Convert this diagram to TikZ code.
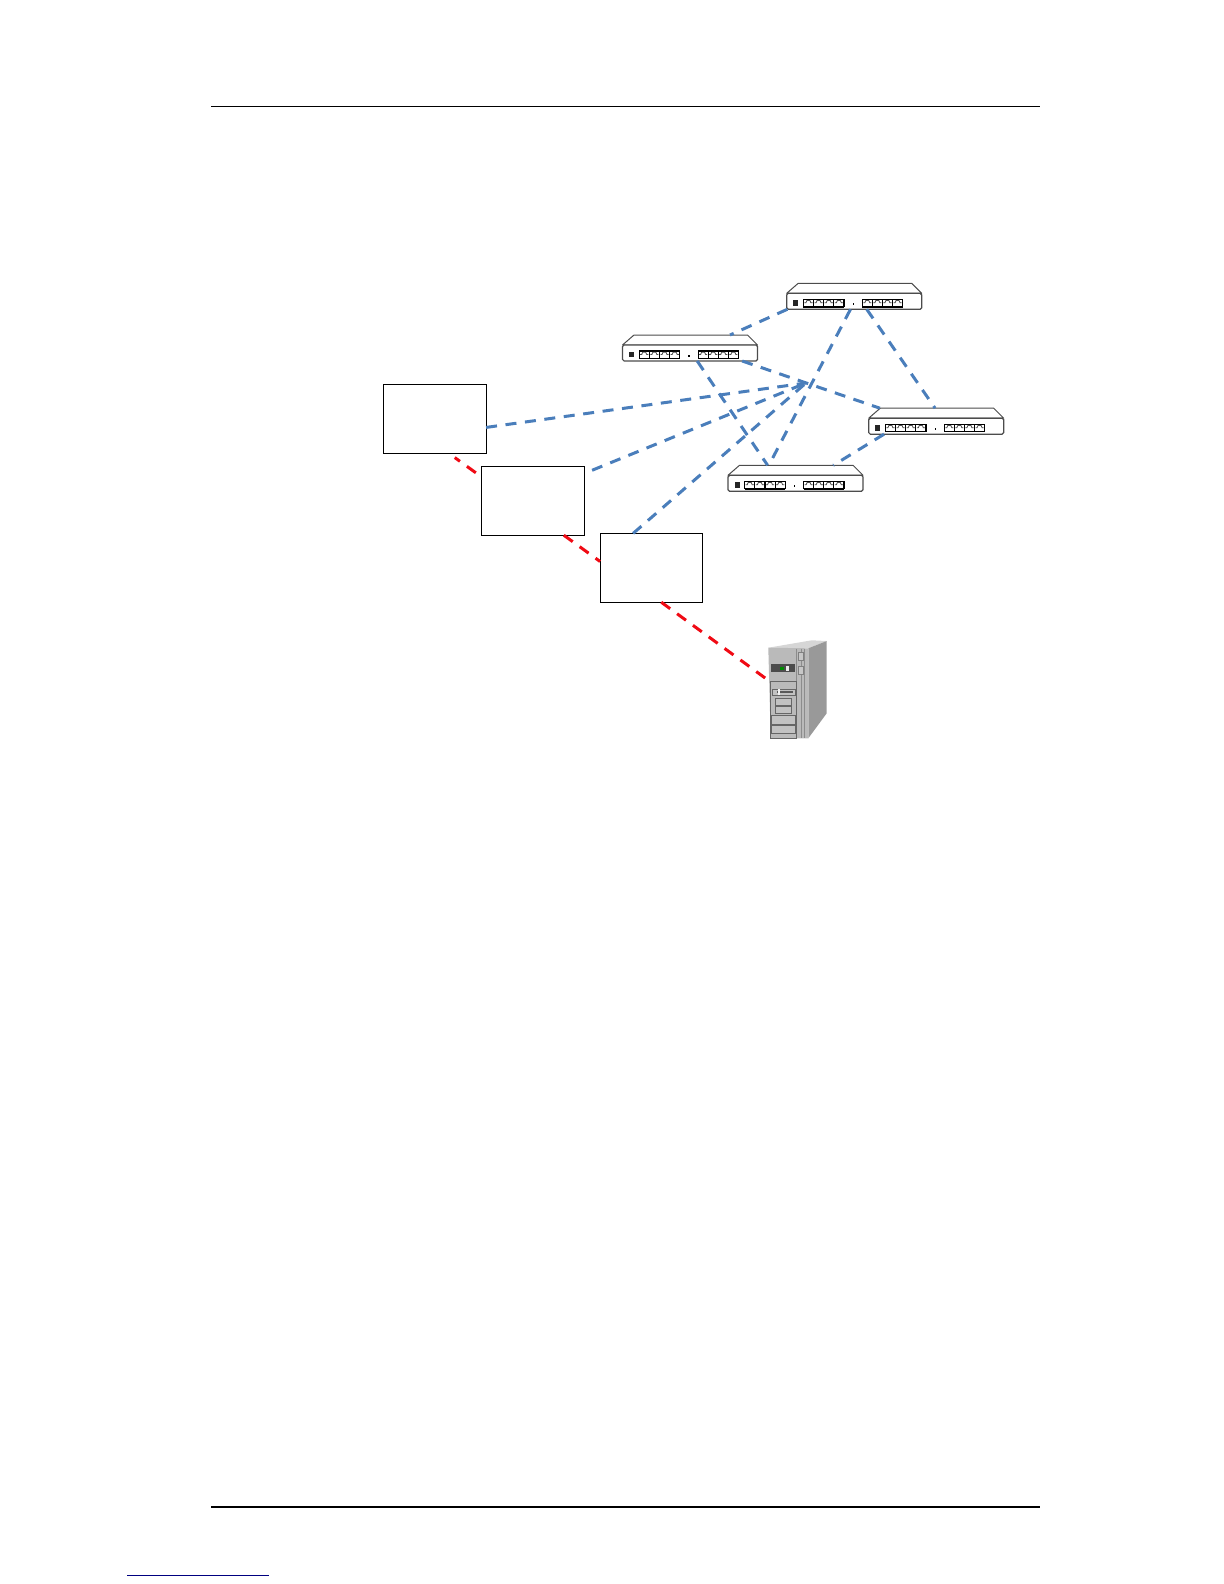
\documentclass[tikz,border=0pt]{standalone}
\usepackage{xcolor}
\definecolor{linkblue}{HTML}{4A7EBB}
\definecolor{linkred}{HTML}{F00A14}
\definecolor{linkunder}{HTML}{000080}
\begin{document}
\begin{tikzpicture}[
 x=.5pt,y=-.5pt,
 hopbox/.style={rectangle,draw=black,line width=.55pt,fill=white,outer sep=0pt,
   minimum width=51.3pt,minimum height=34.4pt,inner sep=0pt},
 switchnode/.style={rectangle,outer sep=0pt,inner sep=0pt,
   minimum width=67.5pt,minimum height=13pt},
 servernode/.style={rectangle,outer sep=0pt,inner sep=0pt,
   minimum width=29.35pt,minimum height=48.65pt},
 bluelink/.style={draw=linkblue,line width=1.5pt,dash pattern=on 5.5pt off 4.3pt},
 redlink/.style={draw=linkred,line width=1.5pt,dash pattern=on 5.5pt off 4.3pt},
 pagerule/.style={draw=black},
 bay/.style={draw=black!60,line width=.35pt,fill=black!24}]
 \useasboundingbox (0,0) rectangle (1224,1584);
 \coordinate (ruletopl) at (211,106.8);
 \coordinate (ruletopr) at (1040,106.8);
 \coordinate (rulebotl) at (211,1506.7);
 \coordinate (rulebotr) at (1040,1506.7);
 \coordinate (underl) at (127,1575);
 \coordinate (underr) at (269,1575);
 \coordinate (hub) at (806,383);
 \draw[pagerule,line width=.5pt] (ruletopl) -- (ruletopr);
 \draw[pagerule,line width=1pt] (rulebotl) -- (rulebotr);
 \draw[draw=linkunder,line width=.5pt] (underl) -- (underr);
 \node[hopbox] (hopa) at (434.8,419.3) {};
 \node[hopbox] (hopb) at (532.8,500.8) {};
 \node[hopbox] (hopc) at (651.4,567.8) {};
 \foreach \swname/\swx/\swy in {swtop/854.2/296.3,swleft/690/348,swright/936.2/421.2,swbot/795.5/478.3}{
   \node[switchnode] (\swname) at (\swx,\swy) {};
   \begin{scope}[shift={(\swname.north west)}]
     \draw[black!70,line width=.5pt,fill=white,line join=round] (0,10) -- (11.5,0) -- (125,0) -- (135,10) -- cycle;
     \draw[black!70,line width=.6pt,fill=white,rounded corners=.8pt] (0,10) rectangle (135,26);
     \fill[black!85] (6.7,16.7) rectangle (11.7,22.4);
     \fill[black] (65.8,20) rectangle (67.3,21.5);
     \foreach \portx in {16.7,26.85,37,47.15,75.6,85.65,95.7,105.85}{
       \draw[black,line width=.6pt,fill=white] (\portx,23.4) -- (\portx,16) -- (\portx+10.1,16) -- (\portx+10.1,23.4) -- cycle;
       \draw[black!70,line width=.4pt] (\portx+1,19.5) -- (\portx+2.5,19.5) -- (\portx+3.5,17.2) -- (\portx+6.5,17.2) -- (\portx+7.5,19.5) -- (\portx+9.1,19.5);
       \draw[black,line width=.8pt] (\portx,23.4) -- (\portx+10.1,23.4);
     }
   \end{scope}
 }
 \node[servernode] (server) at (797.35,689.65) {};
 \begin{scope}[shift={(server.north west)}]
   \fill[black!16] (.3,6.7) -- (43.7,-.7) -- (58.7,0) -- (40.3,7.3) -- cycle;
   \fill[black!40] (40.3,7.3) -- (58.7,0) -- (58.7,72.3) -- (40.3,97.3) -- cycle;
   \fill[black!27] (.3,6.7) -- (40.3,7.3) -- (40.3,97.3) -- (2.7,97.3) -- cycle;
   \draw[black!45,line width=.3pt] (28.7,7.5) -- (28.7,97.3) (33,7.5) -- (33,97.3) (36.5,7.5) -- (36.5,97.3);
   \draw[black!50,line width=.3pt,fill=black!22] (30,11) rectangle (35,19) (30,25) rectangle (35,33);
   \fill[black!70] (2.7,23.3) rectangle (27,31.3);
   \fill[green!55!black] (12,25.5) rectangle (16,29);
   \fill[black!8] (18,25) rectangle (21,30);
   \draw[black!60,line width=.4pt] (2.7,40) rectangle (28.7,97.3);
   \draw[bay] (4.3,48) rectangle (27,54.7);
   \fill[black!65] (9,49.5) rectangle (25,51.5);
   \fill[black!5] (10,47.5) rectangle (12,54);
   \draw[bay] (7,57.3) rectangle (23.7,64);
   \draw[bay] (7,65.7) rectangle (23.7,72.3);
   \draw[bay] (3.7,74.7) rectangle (27,83.3);
   \draw[bay] (3.7,84) rectangle (27,92.3);
 \end{scope}
 \draw[bluelink] (swtop.191.45) -- (swleft.18);
 \draw[bluelink] (swtop.254.9) -- (swbot.154.7);
 \draw[bluelink] (swtop.-46.1) -- (swright.95.3);
 \draw[bluelink] (swleft.-14.6) -- (swright.167);
 \draw[bluelink] (swleft.-61.7) -- (swbot.155.5);
 \draw[bluelink] (swright.194.2) -- (swbot.19.8);
 \draw[bluelink] (hopa.-9.6) -- (hub);
 \draw[bluelink,dash phase=5.5pt] (hopb.28.8) -- (hub);
 \draw[bluelink] (hopc.118.1) -- (hub);
 \draw[redlink,dash phase=2.3pt,shorten <=3.3pt] (hopa.-67.9) -- (hopb.155.7);
 \draw[redlink] (hopb.-48.5) -- (hopc.173.5);
 \draw[redlink] (hopc.-74.9) -- (server.162.1);
\end{tikzpicture}
\end{document}
